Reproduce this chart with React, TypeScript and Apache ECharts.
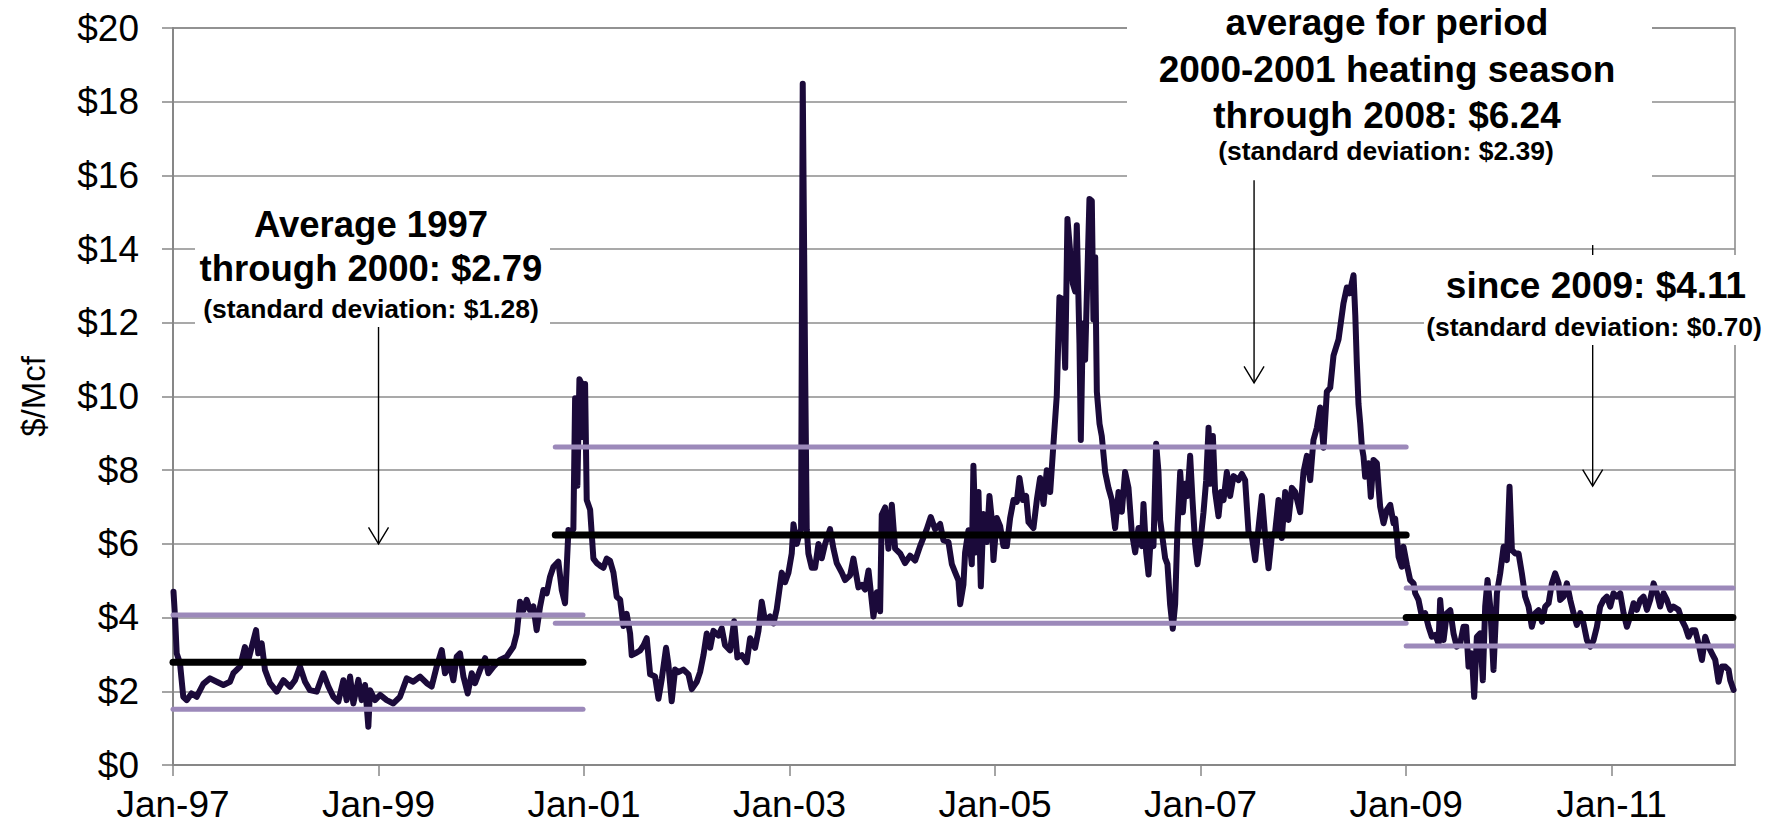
import React, { useEffect, useRef } from 'react';
import * as echarts from 'echarts';

// Price series: [years since Jan 1997, $/Mcf]
const prices1997to2000: number[][] = [
  [0.005, 4.7], [0.02, 4.0], [0.036, 3.03], [0.068, 2.76], [0.1, 1.85], [0.133, 1.76], [0.18, 1.94], [0.23, 1.85],
  [0.295, 2.2], [0.36, 2.35], [0.425, 2.26], [0.49, 2.17], [0.555, 2.26], [0.587, 2.49], [0.652, 2.67], [0.7, 3.2],
  [0.733, 2.85], [0.766, 3.2], [0.808, 3.66], [0.83, 3.03], [0.863, 3.3], [0.895, 2.58], [0.944, 2.22], [1.009, 1.99],
  [1.074, 2.3], [1.139, 2.12], [1.187, 2.3], [1.236, 2.67], [1.285, 2.26], [1.333, 2.03], [1.398, 1.99], [1.463, 2.49],
  [1.512, 2.13], [1.56, 1.85], [1.609, 1.72], [1.658, 2.3], [1.69, 1.76], [1.723, 2.4], [1.755, 1.67], [1.804, 2.31],
  [1.836, 1.76], [1.869, 2.17], [1.901, 1.04], [1.917, 2.03], [1.966, 1.76], [2.015, 1.9], [2.079, 1.76], [2.144, 1.67],
  [2.209, 1.85], [2.274, 2.35], [2.339, 2.26], [2.404, 2.4], [2.469, 2.22], [2.517, 2.13], [2.566, 2.67], [2.615, 3.12],
  [2.647, 2.49], [2.696, 2.71], [2.728, 2.3], [2.761, 2.94], [2.793, 3.03], [2.826, 2.4], [2.868, 1.94], [2.907, 2.49],
  [2.939, 2.22], [2.988, 2.58], [3.037, 2.9], [3.069, 2.49], [3.118, 2.67], [3.182, 2.85], [3.247, 2.94], [3.312, 3.21],
  [3.345, 3.57], [3.377, 4.43], [3.41, 4.2], [3.442, 4.48], [3.474, 4.2], [3.507, 4.3], [3.539, 3.66], [3.572, 4.3],
  [3.604, 4.75], [3.637, 4.66], [3.669, 5.11], [3.702, 5.38], [3.75, 5.52], [3.783, 4.75], [3.815, 4.39], [3.848, 6.38],
];

const prices2000to2004: number[][] = [
  [3.864, 6.27], [3.896, 6.4], [3.913, 9.95], [3.935, 7.58], [3.955, 10.47], [3.977, 10.34], [3.994, 8.9], [4.01, 10.34],
  [4.026, 7.19], [4.059, 6.93], [4.091, 5.6], [4.123, 5.48], [4.156, 5.41], [4.188, 5.35], [4.221, 5.6], [4.253, 5.54],
  [4.286, 5.22], [4.318, 4.56], [4.351, 4.49], [4.383, 3.77], [4.415, 4.1], [4.448, 3.57], [4.464, 2.98], [4.513, 3.05],
  [4.545, 3.11], [4.578, 3.24], [4.61, 3.44], [4.643, 2.46], [4.691, 2.4], [4.724, 1.8], [4.756, 2.33], [4.798, 3.18],
  [4.821, 2.73], [4.853, 1.73], [4.886, 2.59], [4.918, 2.52], [4.967, 2.59], [5.016, 2.46], [5.048, 2.06], [5.097, 2.26],
  [5.129, 2.52], [5.162, 2.98], [5.194, 3.57], [5.227, 3.18], [5.259, 3.64], [5.308, 3.51], [5.34, 3.71], [5.372, 3.25],
  [5.421, 3.11], [5.46, 3.9], [5.492, 2.92], [5.535, 2.98], [5.583, 2.79], [5.616, 3.44], [5.664, 3.18], [5.697, 3.64],
  [5.729, 4.43], [5.762, 3.9], [5.81, 4.03], [5.843, 3.84], [5.875, 4.23], [5.924, 5.22], [5.956, 4.96], [5.989, 5.22],
  [6.021, 5.74], [6.038, 6.53], [6.07, 6.0], [6.096, 6.27], [6.112, 6.4], [6.128, 18.49], [6.151, 10.87], [6.167, 6.4],
  [6.183, 5.74], [6.216, 5.35], [6.248, 5.35], [6.281, 6.0], [6.313, 5.61], [6.346, 6.0], [6.394, 6.4], [6.427, 5.87],
  [6.459, 5.48], [6.508, 5.22], [6.54, 5.02], [6.589, 5.15], [6.621, 5.6], [6.67, 4.82], [6.703, 4.89], [6.735, 4.76],
  [6.768, 5.28], [6.816, 4.03], [6.849, 4.69], [6.881, 4.17], [6.897, 6.79], [6.93, 6.99], [6.962, 5.87], [6.995, 7.06],
  [7.027, 5.87], [7.076, 5.74], [7.124, 5.48], [7.173, 5.68], [7.222, 5.55], [7.27, 5.94], [7.335, 6.4], [7.374, 6.73],
  [7.416, 6.4],
];

const prices2004to2008: number[][] = [
  [7.465, 6.54], [7.497, 6.1], [7.546, 6.05], [7.579, 5.45], [7.611, 5.23], [7.643, 5.01], [7.66, 4.36], [7.692, 4.9],
  [7.708, 5.77], [7.741, 6.37], [7.773, 5.45], [7.789, 8.12], [7.815, 5.77], [7.838, 7.41], [7.861, 4.85], [7.887, 6.81],
  [7.919, 6.05], [7.945, 7.3], [7.968, 6.65], [7.984, 5.56], [8.017, 6.7], [8.049, 6.48], [8.081, 5.94], [8.114, 5.94],
  [8.146, 6.7], [8.179, 7.19], [8.211, 7.14], [8.237, 7.79], [8.27, 7.19], [8.302, 7.3], [8.325, 6.59], [8.373, 6.43],
  [8.406, 7.19], [8.438, 7.79], [8.471, 7.08], [8.503, 8.0], [8.536, 7.41], [8.568, 8.72], [8.6, 10.02], [8.626, 12.69],
  [8.659, 12.64], [8.682, 10.78], [8.704, 14.82], [8.73, 13.94], [8.756, 13.07], [8.779, 12.85], [8.795, 14.65], [8.821, 11.44],
  [8.834, 8.82], [8.854, 11.98], [8.876, 11.0], [8.899, 13.4], [8.918, 15.36], [8.941, 15.31], [8.957, 12.09], [8.974, 13.78],
  [8.99, 10.13], [9.016, 9.26], [9.038, 8.93], [9.071, 7.95], [9.103, 7.52], [9.136, 7.19], [9.168, 6.43], [9.201, 7.41],
  [9.233, 6.87], [9.265, 7.95], [9.298, 7.52], [9.33, 6.32], [9.363, 5.77], [9.395, 6.43], [9.428, 5.94], [9.444, 7.08],
  [9.47, 5.77], [9.493, 5.17], [9.515, 6.21], [9.541, 5.94], [9.567, 8.72], [9.59, 7.95], [9.606, 6.65], [9.632, 6.1],
  [9.655, 5.61], [9.677, 5.45], [9.703, 4.36], [9.729, 3.7], [9.752, 4.36], [9.775, 6.43], [9.801, 7.95], [9.827, 6.86],
  [9.849, 7.63], [9.872, 7.3], [9.898, 8.39], [9.921, 7.19], [9.947, 5.99], [9.969, 5.45], [9.995, 5.99], [10.028, 6.86],
  [10.054, 7.73], [10.077, 9.15], [10.093, 7.63], [10.119, 8.93], [10.141, 7.41], [10.174, 6.75], [10.197, 7.41], [10.223, 7.19],
  [10.255, 7.95], [10.287, 7.3], [10.32, 7.84], [10.369, 7.73], [10.401, 7.9], [10.433, 7.73], [10.466, 6.32], [10.498, 6.21],
  [10.531, 5.56], [10.563, 6.43], [10.596, 7.3], [10.628, 6.21], [10.661, 5.34], [10.693, 6.21], [10.725, 6.32], [10.758, 7.19],
  [10.79, 6.16], [10.823, 7.41], [10.855, 6.65], [10.888, 7.52], [10.92, 7.41], [10.969, 6.86], [11.001, 7.95], [11.034, 8.39],
  [11.066, 7.73], [11.098, 8.82], [11.131, 9.15], [11.163, 9.7], [11.196, 8.61], [11.228, 10.13], [11.261, 10.24], [11.293, 11.11],
  [11.342, 11.55], [11.39, 12.53], [11.423, 12.96], [11.449, 12.8], [11.488, 13.29], [11.505, 12.2], [11.52, 10.9], [11.536, 9.8],
];

const prices2008to2012: number[][] = [
  [11.553, 9.27], [11.569, 8.64], [11.585, 8.37], [11.601, 7.82], [11.634, 8.19], [11.656, 7.28], [11.682, 8.28], [11.715, 8.19],
  [11.731, 7.55], [11.747, 7.01], [11.78, 6.56], [11.812, 6.92], [11.845, 7.06], [11.877, 6.56], [11.893, 6.69], [11.91, 6.2],
  [11.926, 5.65], [11.958, 5.38], [11.974, 5.92], [12.007, 5.43], [12.039, 5.02], [12.072, 4.93], [12.088, 4.66], [12.12, 4.48],
  [12.153, 4.03], [12.185, 4.12], [12.218, 3.75], [12.25, 3.48], [12.283, 3.53], [12.315, 3.3], [12.331, 4.48], [12.364, 3.39],
  [12.396, 4.12], [12.429, 4.2], [12.461, 3.57], [12.493, 3.21], [12.526, 3.3], [12.558, 3.75], [12.584, 3.75], [12.607, 2.67],
  [12.639, 3.03], [12.662, 1.85], [12.688, 3.48], [12.72, 3.57], [12.746, 2.3], [12.769, 4.3], [12.792, 5.02], [12.818, 4.3],
  [12.85, 2.58], [12.883, 4.66], [12.915, 5.2], [12.948, 5.92], [12.98, 5.56], [13.006, 7.55], [13.029, 5.83], [13.061, 5.74],
  [13.094, 5.74], [13.126, 5.2], [13.158, 4.57], [13.191, 4.3], [13.223, 3.75], [13.256, 4.12], [13.288, 4.2], [13.321, 3.89],
  [13.353, 4.3], [13.386, 4.39], [13.418, 4.93], [13.45, 5.2], [13.483, 4.93], [13.499, 4.48], [13.532, 4.57], [13.564, 4.93],
  [13.597, 4.48], [13.629, 4.12], [13.661, 3.8], [13.694, 4.12], [13.726, 3.84], [13.759, 3.39], [13.791, 3.21], [13.824, 3.39],
  [13.856, 3.75], [13.888, 4.3], [13.921, 4.48], [13.953, 4.57], [13.986, 4.3], [14.018, 4.66], [14.051, 4.57], [14.083, 4.66],
  [14.116, 4.12], [14.148, 3.75], [14.18, 4.03], [14.213, 4.39], [14.245, 4.21], [14.278, 4.48], [14.31, 4.57], [14.343, 4.21],
  [14.375, 4.48], [14.408, 4.93], [14.44, 4.66], [14.472, 4.3], [14.505, 4.66], [14.537, 4.48], [14.57, 4.21], [14.6, 4.3],
  [14.651, 4.21], [14.683, 3.93], [14.716, 3.75], [14.748, 3.48], [14.781, 3.66], [14.813, 3.66], [14.845, 3.3], [14.878, 2.85],
  [14.91, 3.48], [14.943, 3.21], [14.975, 3.03], [15.008, 2.85], [15.04, 2.26], [15.073, 2.67], [15.105, 2.67], [15.138, 2.58],
  [15.154, 2.3], [15.186, 2.04],
];

// X axis ticks (years since Jan 1997)
const tickYears = [0, 2, 4, 6, 8, 10, 12, 14];
const tickLabels = ['Jan-97', 'Jan-99', 'Jan-01', 'Jan-03', 'Jan-05', 'Jan-07', 'Jan-09', 'Jan-11'];

// Period averages and +/- one standard deviation bands
const periodStart = [0, 3.72, 12.0];
const periodEnd = [3.99, 12.0, 15.18];
const periodMean = [2.79, 6.24, 4.0];
const periodUpper = [4.07, 8.63, 4.8];
const periodLower = [1.51, 3.85, 3.23];

// Annotation arrows (x in years, from/to in $/Mcf)
const arrowX = [2.0, 10.52, 13.815];
const arrowFrom = [11.94, 15.87, 14.11];
const arrowTo = [6.0, 10.37, 7.57];

const leftNote = ['Average 1997', 'through 2000: $2.79', '(standard deviation: $1.28)'];
const middleNote = ['average for period', '2000-2001 heating season', 'through 2008: $6.24', '(standard deviation: $2.39)'];
const rightNote = ['since 2009: $4.11', '(standard deviation: $0.70)'];

const FONT = '"Liberation Sans", Arial, Helvetica, sans-serif';
const PRICE_COLOR = '#1b0a3a';
const BAND_COLOR = '#9c89ba';
const AXIS_COLOR = '#878787';

export default function App() {
  const ref = useRef<HTMLDivElement>(null);

  useEffect(() => {
    document.body.style.margin = '0';
    const chart = echarts.init(ref.current!, undefined, { renderer: 'svg' });

    const priceData = [...prices1997to2000, ...prices2000to2004, ...prices2004to2008, ...prices2008to2012];

    const bandSeries: any[] = [];
    for (let i = 0; i < periodStart.length; i++) {
      const mk = (v: number, color: string, width: number) => ({
        type: 'line',
        data: [[periodStart[i], v], [periodEnd[i], v]],
        showSymbol: false,
        symbol: 'none',
        clip: false,
        silent: true,
        lineStyle: { color, width, cap: 'round' },
        z: 3,
      });
      bandSeries.push(mk(periodUpper[i], BAND_COLOR, 5));
      bandSeries.push(mk(periodLower[i], BAND_COLOR, 5));
      bandSeries.push(mk(periodMean[i], '#000000', 7));
    }

    chart.setOption({
      animation: false,
      backgroundColor: '#ffffff',
      grid: {
        left: 173, top: 28, width: 1562, height: 737,
        show: true, borderColor: AXIS_COLOR, borderWidth: 1.5, backgroundColor: 'transparent',
      },
      xAxis: {
        type: 'value', min: 0, max: 15.2, interval: 2,
        axisLine: { show: true, lineStyle: { color: AXIS_COLOR, width: 2 } },
        axisTick: { show: true, length: 11, customValues: tickYears, lineStyle: { color: AXIS_COLOR, width: 1.5 } },
        axisLabel: {
          customValues: tickYears,
          formatter: (v: number) => {
            const idx = tickYears.indexOf(Math.round(v));
            return Math.abs(v - Math.round(v)) < 1e-6 && idx >= 0 ? tickLabels[idx] : '';
          },
          fontSize: 37, lineHeight: 36, color: '#000', fontFamily: FONT, margin: 21,
        },
        splitLine: { show: false },
      },
      yAxis: {
        type: 'value', min: 0, max: 20, interval: 2,
        name: '$/Mcf',
        nameLocation: 'middle',
        nameRotate: 90,
        nameGap: 123,
        nameTextStyle: { fontSize: 33, color: '#000', fontFamily: FONT },
        axisLine: { show: true, lineStyle: { color: AXIS_COLOR, width: 2 } },
        axisTick: { show: true, length: 11, lineStyle: { color: AXIS_COLOR, width: 1.5 } },
        axisLabel: { formatter: (v: number) => `$${v}`, fontSize: 37, color: '#000', fontFamily: FONT, margin: 34 },
        splitLine: { show: true, lineStyle: { color: '#8c8c8c', width: 1.5 } },
      },
      series: [
        {
          type: 'line',
          data: priceData,
          showSymbol: false,
          symbol: 'none',
          silent: true,
          lineStyle: { color: PRICE_COLOR, width: 6, join: 'round', cap: 'round' },
          z: 2,
        },
        ...bandSeries,
      ],
    });

    const px = (t: number, v: number) => chart.convertToPixel({ gridIndex: 0 }, [t, v]) as number[];

    const elements: any[] = [];
    for (let i = 0; i < arrowX.length; i++) {
      const a = px(arrowX[i], arrowFrom[i]);
      const b = px(arrowX[i], arrowTo[i]);
      elements.push({
        type: 'line', z: 50,
        shape: { x1: a[0], y1: a[1], x2: b[0], y2: b[1] },
        style: { stroke: '#000', lineWidth: 1.4 },
      });
      elements.push({
        type: 'polyline', z: 50,
        shape: { points: [[b[0] - 10, b[1] - 16.5], [b[0], b[1]], [b[0] + 10, b[1] - 16.5]] },
        style: { stroke: '#000', lineWidth: 1.4, fill: 'none' },
      });
    }

    // white text boxes covering gridlines
    const boxes = [
      [195, 205, 355, 122],
      [1127, 0, 525, 178],
      [1424, 255, 350, 90],
    ];
    boxes.forEach((b) => {
      elements.push({ type: 'rect', z: 60, shape: { x: b[0], y: b[1], width: b[2], height: b[3] }, style: { fill: '#ffffff' } });
    });

    const txt = (text: string, x: number, y: number, size: number) => ({
      type: 'text', z: 70, x, y,
      style: {
        text, fill: '#000', fontSize: size, fontFamily: FONT, fontWeight: 'bold',
        align: 'center', verticalAlign: 'middle', textAlign: 'center', textVerticalAlign: 'middle',
      },
    });

    elements.push(txt(leftNote[0], 371, 224.5, 36.5));
    elements.push(txt(leftNote[1], 371, 268.5, 36.5));
    elements.push(txt(leftNote[2], 371, 308.5, 26.5));

    elements.push(txt(middleNote[0], 1387, 22.2, 37));
    elements.push(txt(middleNote[1], 1387, 69.9, 37));
    elements.push(txt(middleNote[2], 1387, 115.5, 37));
    elements.push(txt(middleNote[3], 1386, 151.2, 26.5));

    elements.push(txt(rightNote[0], 1596, 285.2, 37));
    elements.push(txt(rightNote[1], 1594, 326.5, 26.5));

    chart.setOption({ graphic: { elements } });

    return () => chart.dispose();
  }, []);

  return <div ref={ref} style={{ width: 1775, height: 825 }} />;
}
